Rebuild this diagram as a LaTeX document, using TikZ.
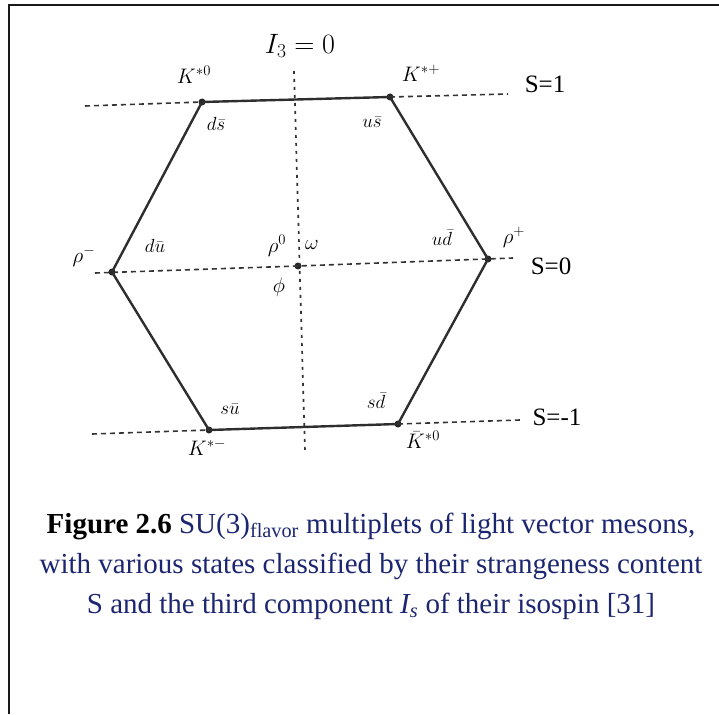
\RequirePackage{fix-cm}
\documentclass[tikz,border=0pt]{standalone}
\usepackage{fontspec}
\setmainfont{Liberation Serif}
\definecolor{capblue}{RGB}{28,38,112}
\tikzset{
  hexedge/.style={line width=2.4pt,draw=black!82,line join=round},
  slline/.style={line width=1.6pt,draw=black!80,dash pattern=on 5pt off 4pt},
  i3line/.style={line width=1.7pt,draw=black!80,dash pattern=on 3pt off 5pt},
  vert/.style={circle,fill=black!85,inner sep=0pt,minimum size=7pt},
  lab/.style={inner sep=0pt,font=\fontsize{21}{24}\selectfont},
  quark/.style={inner sep=0pt,font=\fontsize{19}{22}\selectfont},
  strange/.style={inner sep=0pt,font=\fontsize{25}{28}\selectfont}
}
\begin{document}
\begin{tikzpicture}[x=1pt,y=-1pt]
\useasboundingbox (0,0) rectangle (719,714);
% frame
\draw[line width=2.5pt,black!90] (719,5) -- (9,5) -- (9,714);
% weight diagram
\node[vert] (Kz)  at (202,102) {};
\node[vert] (Kp)  at (390,97) {};
\node[vert] (rp)  at (488,259) {};
\node[vert] (Kzb) at (398,424) {};
\node[vert] (Km)  at (209,430) {};
\node[vert] (rm)  at (112,272) {};
\node[vert] (c)   at (298,266) {};
\coordinate (s1l) at (85,106);  \coordinate (s1r) at (508,94);
\coordinate (s0l) at (95,273);  \coordinate (s0r) at (513,258);
\coordinate (sml) at (92,434);  \coordinate (smr) at (520,420);
\coordinate (i3t) at (294,71);  \coordinate (i3b) at (305,452);
\draw[slline] (s1l) -- (Kz.center) (Kp.center) -- (s1r);
\draw[slline] (s0l) -- (c.center) -- (s0r);
\draw[slline] (sml) -- (Km.center) (Kzb.center) -- (smr);
\draw[i3line] (i3t) -- (i3b);
\draw[hexedge] (Kz.center) -- (Kp.center) -- (rp.center) -- (Kzb.center)
  -- (Km.center) -- (rm.center) -- cycle;
% labels
\node[strange,font=\fontsize{28}{30}\selectfont] (i3) at (300,46) {$I_3 = 0$};
\node[strange] (s1) at (545,84) {S=1};
\node[strange] (s0) at (551,266) {S=0};
\node[strange] (sm) at (557,417) {S=-1};
\node[lab] (lKz)  at (194,75) {$K^{*0}$};
\node[lab] (lKp)  at (421,73) {$K^{*+}$};
\node[lab] (lrm)  at (84,256) {$\rho^{-}$};
\node[lab] (lrp)  at (514,237) {$\rho^{+}$};
\node[lab] (lr0)  at (277,246) {$\rho^{0}$};
\node[lab] (lom)  at (312,245) {$\omega$};
\node[lab] (lphi) at (279,287) {$\phi$};
\node[lab] (lKm)  at (207,447) {$K^{*-}$};
\node[lab] (lKzb) at (423,440) {$\bar{K}^{*0}$};
\node[quark] (qds) at (216,124) {$d\bar{s}$};
\node[quark] (qus) at (372,122) {$u\bar{s}$};
\node[quark] (qdu) at (155,246) {$d\bar{u}$};
\node[quark] (qud) at (442,238) {$u\bar{d}$};
\node[quark] (qsu) at (230,409) {$s\bar{u}$};
\node[quark] (qsd) at (376,401) {$s\bar{d}$};
% caption
\node[align=center,text=capblue,font=\fontsize{29}{40}\selectfont] (cap) at (371,566)
  {\textcolor{black}{\textbf{Figure 2.6}} SU(3)\textsubscript{flavor} multiplets of light vector mesons,\\
   with various states classified by their strangeness content\\
   S and the third component \textit{I\textsubscript{s}} of their isospin [31]};
\end{tikzpicture}
\end{document}
